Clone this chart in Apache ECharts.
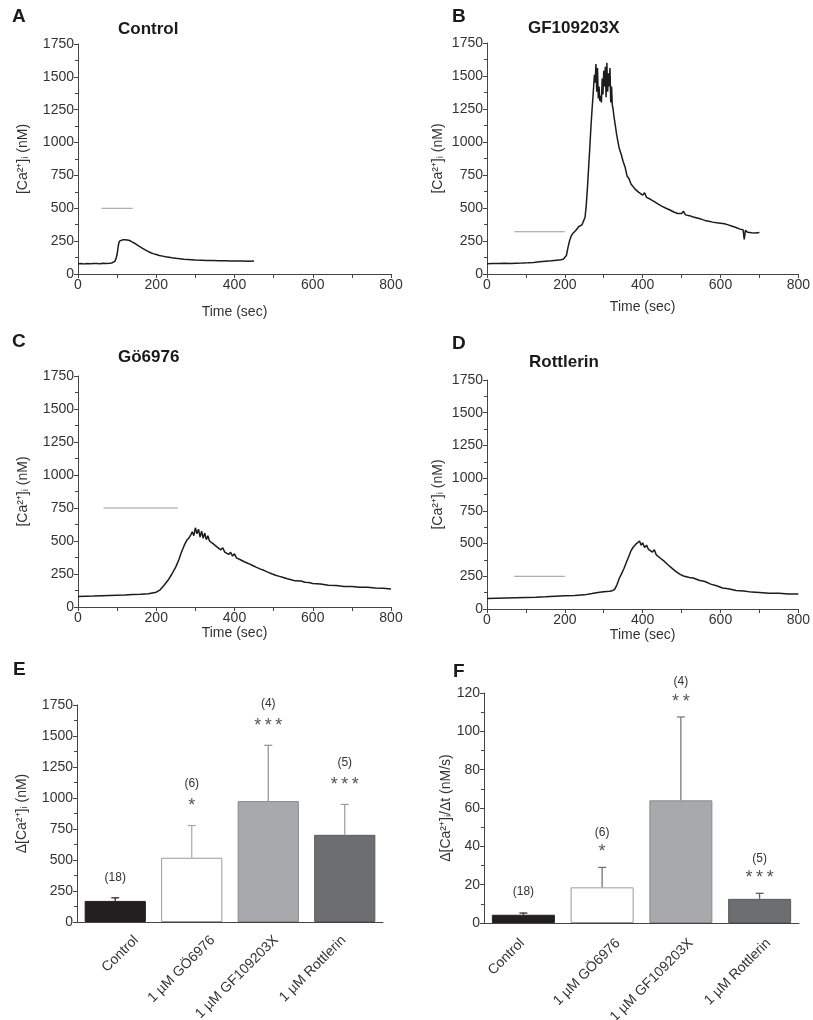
<!DOCTYPE html>
<html><head><meta charset="utf-8">
<script src="https://cdn.jsdelivr.net/npm/echarts@6/dist/echarts.min.js"></script>
<style>html,body{margin:0;padding:0;background:#fff}#c{width:813px;height:1020px}</style>
</head><body><div id="c"></div>
<script>
// ---------- Data ----------
var tA = [0,8,16,24,32,40,48,56,64,72,80,86,90,94,97,100,102,104,106,108,111,114,117,120,123,126,129,132,135,138,142,146,150,155,160,165,170,175,180,186,192,200,208,216,224,232,240,250,260,270,280,290,300,315,330,345,360,375,390,405,420,435,450];
var vA = [78,80,77,79,78,80,79,78,81,80,82,84,88,96,115,150,195,232,250,256,252,260,254,261,253,258,251,255,247,245,238,232,224,214,205,195,186,178,170,162,155,148,141,136,131,127,123,119,116,113,111,109,107,105,103,102,100,100,99,98,99,97,98];

var tB = [0,15,30,45,60,75,90,105,120,135,150,165,180,190,196,200,204,208,212,216,220,224,228,232,236,240,244,248,252,255,258,261,264,267,270,272,274,276,278,280,282,284,286,288,290,292,294,296,298,300,302,304,306,308,310,312,314,316,318,320,322,324,326,328,330,333,336,
  340,345,350,355,360,365,370,375,380,385,390,395,400,405,410,415,420,425,430,435,440,445,450,455,460,465,470,475,480,485,490,495,500,505,510,515,520,525,530,535,540,545,550,555,560,565,570,575,580,585,590,595,600,605,610,615,620,625,630,635,640,645,650,655,658,661,664,670,675,680,685,690,695,700];
var vB = [78,80,79,81,80,82,83,85,88,92,96,100,105,108,111,115,140,200,250,285,305,318,330,345,360,358,372,385,430,520,650,800,950,1110,1250,1330,1420,1510,1450,1590,1380,1560,1330,1420,1310,1350,1300,1480,1360,1540,1420,1570,1340,1600,1380,1520,1420,1560,1300,1420,1280,1250,1200,1160,1120,1060,1010,
  950,905,850,808,742,722,682,688,645,655,618,628,598,615,580,592,566,578,548,555,530,542,512,522,498,505,485,494,470,478,458,466,458,475,448,462,442,450,432,444,424,434,416,424,406,416,400,410,393,405,388,401,384,396,380,390,372,382,362,372,352,358,340,346,335,262,330,316,325,312,322,310,320,314];

var tC = [0,20,40,60,80,100,120,140,160,180,200,210,220,230,240,250,258,265,272,278,284,288,292,296,300,304,308,312,316,320,324,328,332,336,
  340,345,350,355,360,365,370,375,380,385,390,395,400,405,410,415,420,425,430,435,440,445,450,455,460,465,470,475,480,485,490,495,500,505,510,515,520,525,530,535,540,545,550,555,560,
  570,580,590,600,620,640,660,680,700,720,740,760,780,800];
var vC = [80,82,83,85,87,89,91,94,96,100,112,130,165,202,250,304,360,420,470,505,525,545,570,540,600,555,590,530,575,520,560,510,540,500,
  515,480,490,455,467,433,449,416,430,398,414,386,403,372,386,358,372,343,355,330,345,316,327,302,313,289,300,278,288,264,272,252,260,241,250,232,241,224,231,214,221,206,212,198,204,
  197,188,186,178,174,165,163,156,155,150,149,144,142,137];

var tD = [0,25,50,75,100,125,150,175,200,225,250,270,285,300,315,322,328,334,340,346,352,358,364,370,375,
  380,384,388,392,396,400,405,410,415,420,425,430,435,440,445,450,455,460,465,470,475,480,485,490,495,500,505,510,
  520,530,545,560,575,590,605,620,640,660,680,700,725,750,775,800];
var vD = [80,82,84,86,88,90,93,97,101,104,108,118,126,132,136,140,150,185,235,270,310,355,400,445,470,
  475,500,485,520,488,505,470,488,455,470,435,452,414,428,390,402,366,375,338,348,312,318,288,292,266,270,252,256,
  240,237,220,210,190,178,161,155,142,138,129,127,120,121,115,114];

// stimulus bars (start, end, level)
var stimA = [60, 140, 500];
var stimB = [70, 200, 320];
var stimC = [65, 255, 750];
var stimD = [70, 200, 250];

var barCats = ['Control', '1 µM GÖ6976', '1 µM GF109203X', '1 µM Rottlerin'];
var meanE = [170, 518, 975, 703];
var errE  = [195, 778, 1425, 948];
var meanF = [4.3, 18.6, 64, 12.6];
var errF  = [5.2, 29, 107.5, 15.5];
var nLabels = ['(18)', '(6)', '(4)', '(5)'];
var starsE = ['', '*', '*\u2009*\u2009*', '*\u2009*\u2009*'];
var starsF = ['', '*', '*\u2009*', '*\u2009*\u2009*'];

var timeTicks = [0, 200, 400, 600, 800];
var caTicks = [0, 250, 500, 750, 1000, 1250, 1500, 1750];
var rateTicks = [0, 20, 40, 60, 80, 100, 120];

// ---------- Styling ----------
var FONT = "'Liberation Sans', Arial, Helvetica, sans-serif";
var AXC = '#444';
var barColors = ['#231f20', '#ffffff', '#a7a9ac', '#6d6e71'];
var barBorders = ['#231f20', '#9a9a9a', '#8a8a8a', '#5a5b5e'];
var errColorsE = ['#231f20', '#a8a8a8', '#909090', '#9a9a9a'];
var errColorsF = ['#231f20', '#6a6a6a', '#707070', '#555555'];
// label anchor offsets (px) for rotated category labels
var catDxE = [16, 16, 3, -6], catDyE = 11;
var catDxF = [-6, 11, 5, 4], catDyF = 13;

function zip(t, v) { return t.map(function (x, i) { return [x, v[i]]; }); }
function plain(v) { return String(v); }

var grids = [
  {left: 78, top: 44, width: 313, height: 230},
  {left: 487, top: 43, width: 314, height: 231},
  {left: 78, top: 376, width: 313, height: 231},
  {left: 487, top: 380, width: 312, height: 229},
  {left: 77, top: 705, width: 306, height: 217},
  {left: 484, top: 693, width: 315, height: 230}
];

var caName = '[Ca²⁺]ᵢ (nM)';
var xNameGaps = [31, 26, 18, 15];
var yNameGaps = [48, 42, 48, 42];

var xAxes = [], yAxes = [];
for (var g = 0; g < 4; g++) {
  xAxes.push({
    type: 'value', gridIndex: g, min: timeTicks[0], max: timeTicks[timeTicks.length - 1],
    interval: timeTicks[1] - timeTicks[0],
    name: 'Time (sec)', nameLocation: 'middle', nameGap: xNameGaps[g],
    nameTextStyle: {fontFamily: FONT, fontSize: 14, color: '#333'},
    axisLine: {show: true, lineStyle: {color: AXC, width: 1}},
    axisTick: {show: true, length: 4, lineStyle: {color: AXC}},
    minorTick: {show: true, splitNumber: 2, length: 4, lineStyle: {color: AXC}},
    splitLine: {show: false}, minorSplitLine: {show: false},
    axisLabel: {fontFamily: FONT, fontSize: 14, color: '#333', margin: 4, formatter: plain}
  });
  yAxes.push({
    type: 'value', gridIndex: g, min: caTicks[0], max: caTicks[caTicks.length - 1],
    interval: caTicks[1] - caTicks[0],
    name: caName, nameLocation: 'middle', nameGap: yNameGaps[g], nameRotate: 90,
    nameTextStyle: {fontFamily: FONT, fontSize: 14, color: '#333'},
    axisLine: {show: true, lineStyle: {color: AXC, width: 1}},
    axisTick: {show: true, length: 4, lineStyle: {color: AXC}},
    minorTick: {show: true, splitNumber: 2, length: 3, lineStyle: {color: AXC}},
    splitLine: {show: false}, minorSplitLine: {show: false},
    axisLabel: {fontFamily: FONT, fontSize: 14, color: '#333', margin: 4, formatter: plain}
  });
}
function catAxis(g) {
  return {
    type: 'category', gridIndex: g, data: barCats,
    axisLine: {show: true, lineStyle: {color: AXC}},
    axisTick: {show: false},
    axisLabel: {show: false}
  };
}
xAxes.push(catAxis(4));
yAxes.push({
  type: 'value', gridIndex: 4, min: caTicks[0], max: caTicks[caTicks.length - 1],
  interval: caTicks[1] - caTicks[0],
  name: 'Δ' + caName, nameLocation: 'middle', nameGap: 48,
  nameTextStyle: {fontFamily: FONT, fontSize: 14, color: '#333'},
  axisLine: {show: true, lineStyle: {color: AXC}},
  axisTick: {show: true, length: 4, lineStyle: {color: AXC}},
  minorTick: {show: true, splitNumber: 2, length: 3, lineStyle: {color: AXC}},
  splitLine: {show: false},
  axisLabel: {fontFamily: FONT, fontSize: 14, color: '#333', margin: 4, formatter: plain}
});
xAxes.push(catAxis(5));
yAxes.push({
  type: 'value', gridIndex: 5, min: rateTicks[0], max: rateTicks[rateTicks.length - 1],
  interval: rateTicks[1] - rateTicks[0],
  name: 'Δ[Ca²⁺]ᵢ/Δt (nM/s)', nameLocation: 'middle', nameGap: 29,
  nameTextStyle: {fontFamily: FONT, fontSize: 14, color: '#333'},
  axisLine: {show: true, lineStyle: {color: AXC}},
  axisTick: {show: true, length: 4, lineStyle: {color: AXC}},
  minorTick: {show: true, splitNumber: 2, length: 3, lineStyle: {color: AXC}},
  splitLine: {show: false},
  axisLabel: {fontFamily: FONT, fontSize: 14, color: '#333', margin: 4, formatter: plain}
});

function traceSeries(g, t, v) {
  return {type: 'line', xAxisIndex: g, yAxisIndex: g, data: zip(t, v), showSymbol: false,
    symbol: 'none', lineStyle: {color: '#1c1c1c', width: 1.5}, animation: false, silent: true};
}
function stimSeries(g, s) {
  return {type: 'line', xAxisIndex: g, yAxisIndex: g, data: [[s[0], s[2]], [s[1], s[2]]],
    showSymbol: false, symbol: 'none', lineStyle: {color: '#9a9a9a', width: 1}, animation: false, silent: true};
}
function barSeries(g, vals) {
  return {type: 'bar', xAxisIndex: g, yAxisIndex: g, barWidth: '80%', animation: false,
    data: vals.map(function (v, i) {
      return {value: v, itemStyle: {color: barColors[i], borderColor: barBorders[i], borderWidth: 1}};
    })};
}
function errSeries(g, means, errs, stars, cols, nOff, sOff, ctrlOff) {
  return {type: 'custom', xAxisIndex: g, yAxisIndex: g, animation: false, z: 5, silent: true,
    data: means.map(function (m, i) { return [i, m, errs[i]]; }),
    renderItem: function (params, api) {
      var i = params.dataIndex;
      var p0 = api.coord([api.value(0), api.value(1)]);
      var p1 = api.coord([api.value(0), api.value(2)]);
      var col = cols[i];
      var ch = [
        {type: 'line', shape: {x1: p0[0], y1: p0[1], x2: p1[0], y2: p1[1]}, style: {stroke: col, lineWidth: 1.2}},
        {type: 'line', shape: {x1: p1[0] - 4, y1: p1[1], x2: p1[0] + 4, y2: p1[1]}, style: {stroke: col, lineWidth: 1.2}}
      ];
      if (stars[i]) {
        ch.push({type: 'text', style: {text: stars[i], x: p1[0], y: p1[1] - sOff, align: 'center', verticalAlign: 'middle',
          font: '18px ' + FONT, fill: '#555'}});
        ch.push({type: 'text', style: {text: nLabels[i], x: p1[0], y: p1[1] - nOff, align: 'center', verticalAlign: 'middle',
          font: '12px ' + FONT, fill: '#333'}});
      } else {
        ch.push({type: 'text', style: {text: nLabels[i], x: p1[0], y: p1[1] - ctrlOff, align: 'center', verticalAlign: 'middle',
          font: '12px ' + FONT, fill: '#333'}});
      }
      return {type: 'group', children: ch};
    }};
}
function catLabelSeries(g, dx, dy) {
  return {type: 'custom', xAxisIndex: g, yAxisIndex: g, animation: false, silent: true, clip: false,
    data: barCats.map(function (c, i) { return [i, 0]; }),
    renderItem: function (params, api) {
      var i = params.dataIndex;
      var p = api.coord([api.value(0), api.value(1)]);
      return {type: 'text', x: p[0] + dx[i], y: p[1] + dy, rotation: Math.PI / 4,
        style: {text: barCats[i], x: 0, y: 0, align: 'right', verticalAlign: 'top',
          font: '14px ' + FONT, fill: '#333'}};
    }};
}

function ttl(text, left, top, size) {
  return {text: text, left: left, top: top, padding: 0,
    textStyle: {fontFamily: FONT, fontWeight: 'bold', fontSize: size, color: '#1a1a1a'}};
}

var option = {
  backgroundColor: '#fff',
  animation: false,
  title: [
    ttl('A', 12, 7, 19), ttl('B', 452, 7, 19), ttl('C', 12, 332, 19),
    ttl('D', 452, 334, 19), ttl('E', 13, 660, 19), ttl('F', 453, 662, 19),
    ttl('Control', 118, 21, 17), ttl('GF109203X', 528, 20, 17),
    ttl('Gö6976', 118, 349, 17), ttl('Rottlerin', 529, 354, 17)
  ],
  grid: grids,
  xAxis: xAxes,
  yAxis: yAxes,
  series: [
    traceSeries(0, tA, vA), stimSeries(0, stimA),
    traceSeries(1, tB, vB), stimSeries(1, stimB),
    traceSeries(2, tC, vC), stimSeries(2, stimC),
    traceSeries(3, tD, vD), stimSeries(3, stimD),
    barSeries(4, meanE), errSeries(4, meanE, errE, starsE, errColorsE, 42, 19, 20), catLabelSeries(4, catDxE, catDyE),
    barSeries(5, meanF), errSeries(5, meanF, errF, starsF, errColorsF, 35, 15, 21), catLabelSeries(5, catDxF, catDyF)
  ]
};

var chart = echarts.init(document.getElementById('c'), null, {renderer: 'canvas'});
chart.setOption(option);
</script>
</body></html>
